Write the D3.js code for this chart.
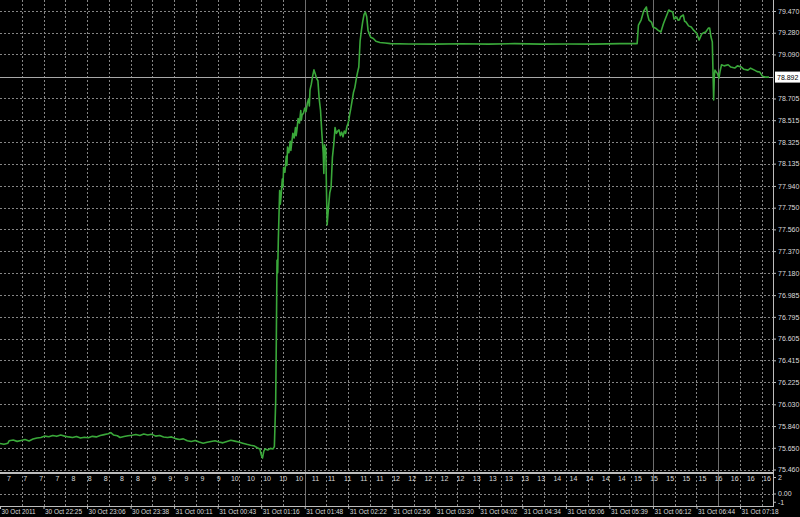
<!DOCTYPE html>
<html><head><meta charset="utf-8">
<script src="https://cdn.jsdelivr.net/npm/d3@7"></script>
<style>body{margin:0;background:#000;} svg{display:block} text{font-family:"Liberation Sans",Arial,sans-serif;}</style>
</head><body><svg id="c" width="800" height="517"></svg>
<script>
// ---- data (bar index, close price) ----
const leftSeries = [[0,75.688],[3,75.680],[6,75.690],[7,75.712],[10,75.718],[13,75.706],[16,75.714],[19,75.722],[22,75.710],[25,75.727],[28,75.735],[31,75.740],[34,75.752],[37,75.746],[40,75.758],[43,75.750],[46,75.761],[49,75.752],[52,75.745],[55,75.740],[58,75.748],[61,75.735],[64,75.742],[67,75.738],[70,75.750],[73,75.745],[76,75.757],[79,75.765],[82,75.772],[84,75.782],[86,75.762],[89,75.755],[91,75.740],[94,75.748],[97,75.755],[100,75.760],[103,75.766],[106,75.758],[109,75.770],[112,75.762],[115,75.768],[118,75.752],[121,75.758],[124,75.744],[127,75.740],[130,75.745],[133,75.730],[136,75.722],[139,75.728],[142,75.712],[145,75.705],[148,75.714],[151,75.700],[154,75.690],[157,75.698],[160,75.705],[163,75.712],[166,75.700],[169,75.693],[172,75.705],[175,75.716],[178,75.708],[181,75.700],[184,75.690],[187,75.680],[190,75.672],[193,75.665],[195,75.650],[197,75.640],[198,75.590],[199,75.560],[200,75.620],[201,75.640],[203,75.630],[205,75.645],[207,75.640],[208,75.660]];
const rallySeries = [[209,76.060],[209.5,76.620],[210,77.290],[210.5,77.180],[211,77.470],[212,77.900],[212.5,77.780],[213,77.840],[214,78.000],[214.5,77.930],[215,78.100],[216,78.060],[217,78.200],[217.5,78.120],[218,78.280],[219,78.230],[220,78.330],[220.5,78.250],[221,78.300],[222,78.400],[223,78.360],[224,78.450],[224.5,78.380],[225,78.420],[226,78.530],[227,78.490],[228,78.600],[228.5,78.520],[229,78.560],[230,78.575],[231,78.620],[232,78.590],[233,78.665],[234,78.700],[234.5,78.640],[235,78.780],[236,78.830],[237,78.900],[238,78.955],[239,78.920],[240,78.880],[241,78.860],[242,78.700],[243,78.600],[244,78.400],[245,78.230],[245.5,78.050],[246,78.300],[247,78.250],[247.5,77.900],[248,77.600],[249,77.750],[250,77.880],[251,77.930],[252,78.190],[253,78.300],[254,78.450],[255,78.400],[256,78.420],[257,78.430],[258,78.380],[259,78.410],[260,78.370],[261,78.420],[262,78.400],[263,78.460],[264,78.490],[265,78.560],[266,78.620],[267,78.690],[268,78.760],[269,78.800],[270,78.870],[271,78.930],[272,78.980],[273,79.210],[274,79.300],[275,79.380],[276,79.440],[277,79.460],[278,79.420],[279,79.300],[280,79.270],[281,79.240],[283,79.230],[285,79.205],[288,79.195],[292,79.190],[296,79.185]];
const flatSeries = [[310,79.182],[330,79.180],[350,79.183],[370,79.180],[390,79.185],[410,79.180],[430,79.182],[450,79.180],[470,79.185],[483,79.185]];
const lateSeries = [[484,79.347],[486,79.391],[488,79.470],[490,79.505],[491,79.435],[492,79.390],[494,79.370],[495,79.330],[497,79.320],[499,79.300],[501,79.286],[503,79.360],[505,79.420],[507,79.479],[508,79.470],[510,79.461],[511,79.400],[513,79.417],[514,79.390],[515,79.391],[516,79.420],[518,79.435],[519,79.380],[520,79.374],[522,79.340],[524,79.330],[526,79.300],[528,79.277],[529,79.250],[530,79.216],[532,79.270],[533,79.277],[535,79.286],[537,79.320],[538,79.321],[539,79.242],[540,79.200],[541,78.691],[541.5,78.900],[542,78.953],[544,78.920],[545,78.883],[546,78.950],[547,79.000],[549,78.990],[552,79.000],[554,78.980],[557,78.971],[559,78.990],[562,78.980],[564,78.960],[567,78.953],[569,78.970],[572,78.953],[574,78.940],[576,78.936],[578,78.900],[580,78.892],[583,78.892]];
const priceTicks = ["79.470","79.280","79.090","78.705","78.515","78.325","78.135","77.940","77.750","77.560","77.370","77.180","76.985","76.795","76.605","76.415","76.225","76.030","75.840","75.650","75.460"];
const gridOnlyPrices = ["78.895"];
const bidPrice = "78.892";
const timeLabels = ["30 Oct 2011","30 Oct 22:25","30 Oct 23:06","30 Oct 23:38","31 Oct 00:11","31 Oct 00:43","31 Oct 01:16","31 Oct 01:48","31 Oct 02:22","31 Oct 02:56","31 Oct 03:30","31 Oct 04:02","31 Oct 04:34","31 Oct 05:06","31 Oct 05:39","31 Oct 06:12","31 Oct 06:44","31 Oct 07:18"];
const timeTickBars = [0,33,66,99,132,165,198,231,264,297,330,363,396,429,462,495,528,561];
const hourLabels = [7,7,7,7,8,8,8,8,8,9,9,9,9,9,10,10,10,10,10,11,11,11,11,11,12,12,12,12,12,13,13,13,13,13,14,14,14,14,14,15,15,15,15,15,16,16,16,16];
const subLevels = [["2",2],["0.00",0],["-1",-1]];

// ---- layout ----
const plotRight = 773, mainBottom = 473, subBottom = 506;
const svg = d3.select("#c");
svg.append("rect").attr("width",800).attr("height",517).attr("fill","#000");

const x = d3.scaleLinear().domain([0,586]).range([0,plotRight]);
const y = d3.scaleLinear().domain([75.460,79.470]).range([469.5,11]);
const ySub = d3.scaleLinear().domain([-1.515,2.485]).range([subBottom,mainBottom]);

const gridColor = "#858585", axisColor = "#bdbdbd", textColor = "#dcdcdc";

// vertical grid (at time ticks and midpoints)
const vGrid = d3.range(1,36).map(k => k*16.5);
const brightGrid = [14,30,33];
svg.append("g").selectAll("line").data(vGrid).join("line")
  .attr("x1",d=>Math.round(x(d))+0.5).attr("x2",d=>Math.round(x(d))+0.5)
  .attr("y1",0).attr("y2",subBottom)
  .attr("stroke",(d,i)=>brightGrid.includes(i+1)?"#6e6e6e":gridColor)
  .attr("stroke-dasharray",(d,i)=>brightGrid.includes(i+1)?null:"2,2").attr("stroke-width",1);

// horizontal grid
svg.append("g").selectAll("line").data(priceTicks.concat(gridOnlyPrices)).join("line")
  .attr("x1",0).attr("x2",plotRight)
  .attr("y1",d=>Math.round(y(+d))+0.5).attr("y2",d=>Math.round(y(+d))+0.5)
  .attr("stroke",gridColor).attr("stroke-dasharray","2,2");

// sub window zero level
svg.append("line").attr("x1",0).attr("x2",plotRight)
  .attr("y1",Math.round(ySub(0))+0.5).attr("y2",Math.round(ySub(0))+0.5)
  .attr("stroke",gridColor).attr("stroke-dasharray","2,2");

// bid line
svg.append("line").attr("x1",0).attr("x2",plotRight)
  .attr("y1",Math.round(y(+bidPrice))+0.5).attr("y2",Math.round(y(+bidPrice))+0.5)
  .attr("stroke","#a8a8a8").attr("stroke-width",1);

// price line
const allSeries = leftSeries.concat(rallySeries, flatSeries, lateSeries);
const line = d3.line().x(d=>x(d[0])).y(d=>y(d[1]));
svg.append("path").datum(allSeries).attr("d",line)
  .attr("fill","none").attr("stroke","#3aa83a").attr("stroke-width",1.6).attr("stroke-linejoin","round");

// borders
svg.append("line").attr("x1",plotRight+0.5).attr("x2",plotRight+0.5).attr("y1",0).attr("y2",subBottom+1).attr("stroke",axisColor);
svg.append("line").attr("x1",0).attr("x2",plotRight+1).attr("y1",mainBottom).attr("y2",mainBottom).attr("stroke",axisColor).attr("stroke-width",2);
svg.append("line").attr("x1",0).attr("x2",plotRight+1).attr("y1",subBottom+0.5).attr("y2",subBottom+0.5).attr("stroke",axisColor);

// right price axis
const ra = svg.append("g").attr("transform",`translate(${plotRight},0)`);
ra.call(d3.axisRight(y).tickValues(priceTicks.map(Number)).tickSize(3).tickFormat((d,i)=>priceTicks[i]));
ra.select(".domain").remove();
ra.selectAll(".tick line").attr("stroke",axisColor);
ra.selectAll(".tick text").attr("fill",textColor).attr("font-size",7).attr("x",5);

// sub axis
const sa = svg.append("g").attr("transform",`translate(${plotRight},0)`);
sa.call(d3.axisRight(ySub).tickValues(subLevels.map(d=>d[1])).tickSize(3).tickFormat((d,i)=>subLevels[i][0]));
sa.select(".domain").remove();
sa.selectAll(".tick line").attr("stroke",axisColor);
sa.selectAll(".tick text").attr("fill",textColor).attr("font-size",7).attr("x",5);

// bid label
const by = y(+bidPrice);
svg.append("rect").attr("x",plotRight+2).attr("y",by-5.5).attr("width",25).attr("height",11).attr("fill","#fff");
svg.append("text").attr("x",plotRight+4).attr("y",by+2.5).attr("fill","#000").attr("font-size",7).text(bidPrice);

// time axis
const xa = svg.append("g").attr("transform",`translate(0,${subBottom})`);
xa.call(d3.axisBottom(x).tickValues(timeTickBars).tickSize(3).tickFormat((d,i)=>timeLabels[i]));
xa.select(".domain").remove();
xa.selectAll(".tick line").attr("stroke",axisColor);
xa.selectAll(".tick text").attr("fill",textColor).attr("font-size",7).attr("text-anchor","start").attr("x",1).attr("y",3.5)
  .attr("textLength",(d,i)=>i===0?34:37).attr("lengthAdjust","spacingAndGlyphs");

// hour labels in sub window
const hx = d3.scalePoint().domain(d3.range(hourLabels.length)).range([9,767]);
svg.append("g").selectAll("text").data(hourLabels).join("text")
  .attr("x",(d,i)=>hx(i)).attr("y",ySub(1.55)).attr("text-anchor","middle")
  .attr("fill",textColor).attr("font-size",7).text(d=>d);
</script></body></html>
